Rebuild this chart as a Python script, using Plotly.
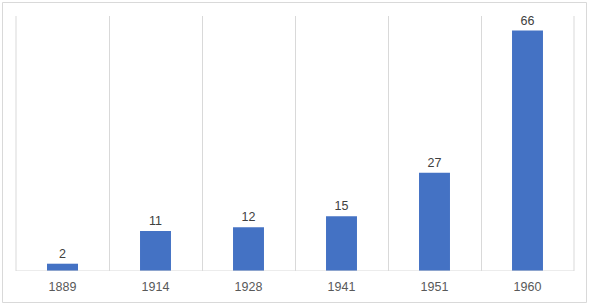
import plotly.graph_objects as go

years = ["1889", "1914", "1928", "1941", "1951", "1960"]
values = [2, 11, 12, 15, 27, 66]

W, H = 589, 305
L, R, T, B = 16, 15, 16, 34
pw, ph = W - L - R, H - T - B

fig = go.Figure(go.Bar(
    x=years, y=values,
    marker=dict(color="#4472C4", line=dict(width=0)),
    text=[str(v) for v in values], textposition="outside",
    textfont=dict(family="Liberation Sans, Arial", size=12.5, color="#404040"),
    cliponaxis=False,
))

def px2x(p):
    return (p - L) / pw

def px2y(p):
    return (H - B - p) / ph

grid = "#D9D9D9"
fig.update_layout(
    width=W, height=H,
    margin=dict(l=L, r=R, t=T, b=B),
    paper_bgcolor="white", plot_bgcolor="white",
    bargap=0.667,
    showlegend=False,
    font=dict(family="Liberation Sans, Arial", size=12.5, color="#595959"),
    xaxis=dict(type="category", tickson="boundaries", showgrid=True,
               gridcolor=grid, gridwidth=1, ticks="", showline=False,
               ticklabelstandoff=6,
               tickfont=dict(size=12.5, color="#595959"), zeroline=False),
    yaxis=dict(range=[0, 70], showgrid=False, showticklabels=False,
               zeroline=False, showline=False),
    shapes=[
        dict(type="line", xref="paper", yref="y", x0=0, x1=1, y0=0, y1=0,
             line=dict(color=grid, width=1)),
        dict(type="line", xref="paper", yref="paper", x0=0, x1=0, y0=0, y1=1,
             line=dict(color=grid, width=1), layer="below"),
        dict(type="line", xref="paper", yref="paper", x0=1, x1=1, y0=0, y1=1,
             line=dict(color=grid, width=1), layer="below"),
        dict(type="rect", xref="paper", yref="paper",
             x0=px2x(2.5), x1=px2x(586.5), y0=px2y(302.5), y1=px2y(2.5),
             line=dict(color=grid, width=1), layer="below"),
    ],
)

fig.write_html("out.html", config={"displayModeBar": False},
               post_script="document.body.style.margin='0';")
